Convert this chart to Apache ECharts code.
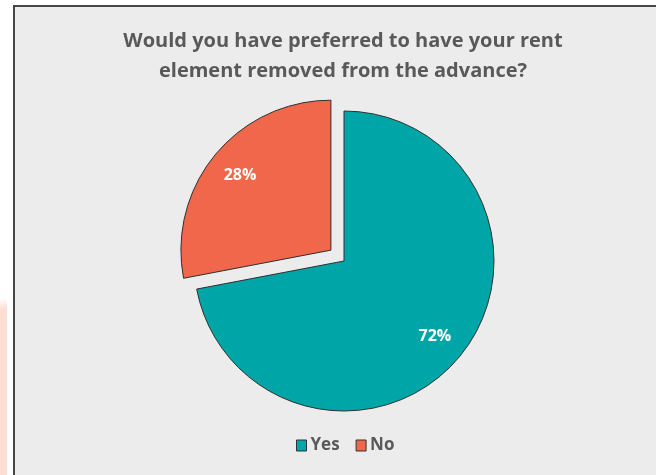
<!DOCTYPE html>
<html>
<head>
<meta charset="utf-8">
<script src="https://cdn.jsdelivr.net/npm/echarts@6/dist/echarts.min.js"></script>
<style>
  html, body { margin: 0; padding: 0; background: #ffffff; }
  #chart { width: 656px; height: 475px; }
</style>
</head>
<body>
<div id="chart"></div>
<script>
// Survey answers and their shares (percent)
const categories = ['Yes', 'No'];
const shares = [72, 28];
const sliceColors = ['#00a5a8', '#f1674b'];
const titleText = 'Would you have preferred to have your rent\nelement removed from the advance?';

const chart = echarts.init(document.getElementById('chart'), null, { renderer: 'canvas' });

const pieCenter = [344, 261];
const pieRadius = 150;
const explodeOffset = 17;

const sliceData = categories.map((name, i) => ({
  name: name,
  value: shares[i],
  selected: name === 'No',
  itemStyle: { color: sliceColors[i] }
}));

const labelData = categories.map((name, i) => ({
  name: name,
  value: shares[i],
  selected: name === 'No'
}));

chart.setOption({
  backgroundColor: '#ffffff',
  animation: false,
  graphic: [
    // plot frame
    {
      type: 'rect', z: -10, silent: true,
      shape: { x: 14, y: 6, width: 700, height: 520 },
      style: { fill: '#ececec', stroke: '#474747', lineWidth: 2 }
    },
    // faint tinted strip along the left margin
    {
      type: 'rect', z: -11, silent: true,
      shape: { x: 0, y: 298, width: 7, height: 180 },
      style: {
        fill: new echarts.graphic.LinearGradient(0, 0, 0, 1, [
          { offset: 0, color: 'rgba(253,222,212,0)' },
          { offset: 0.06, color: 'rgba(253,222,212,1)' },
          { offset: 1, color: 'rgba(253,222,212,1)' }
        ])
      }
    }
  ],
  title: {
    text: titleText,
    left: 338,
    textAlign: 'center',
    top: 21,
    textStyle: {
      fontFamily: 'Open Sans',
      fontWeight: 'bold',
      fontSize: 20,
      lineHeight: 30,
      color: '#595959'
    }
  },
  legend: {
    data: categories,
    left: 291,
    top: 432,
    itemWidth: 10,
    itemHeight: 11,
    itemGap: 16,
    icon: 'rect',
    textStyle: {
      fontFamily: 'Open Sans',
      fontWeight: 'bold',
      fontSize: 17,
      color: '#595959',
      padding: [0, 0, 0, -1]
    },
    itemStyle: { borderColor: '#333333', borderWidth: 1 },
    selectedMode: false
  },
  series: [
    {
      type: 'pie',
      center: pieCenter,
      radius: [0, pieRadius],
      startAngle: 90,
      clockwise: true,
      selectedMode: 'single',
      selectedOffset: explodeOffset,
      avoidLabelOverlap: false,
      silent: true,
      label: { show: false },
      labelLine: { show: false },
      itemStyle: { borderColor: '#2f2f2f', borderWidth: 1 },
      emphasis: { disabled: true },
      data: sliceData
    },
    {
      // transparent ring used only to place the percentage labels
      type: 'pie',
      center: pieCenter,
      radius: [80, pieRadius],
      startAngle: 90,
      clockwise: true,
      selectedMode: 'single',
      selectedOffset: explodeOffset,
      avoidLabelOverlap: false,
      silent: true,
      legendHoverLink: false,
      itemStyle: { color: 'rgba(0,0,0,0)', borderWidth: 0 },
      label: {
        show: true,
        position: 'inside',
        formatter: '{c}%',
        color: '#ffffff',
        fontFamily: 'Open Sans',
        fontWeight: 'bold',
        fontSize: 16,
        padding: [6, 0, 0, 0]
      },
      labelLine: { show: false },
      emphasis: { disabled: true },
      data: labelData
    }
  ]
});
</script>
</body>
</html>
